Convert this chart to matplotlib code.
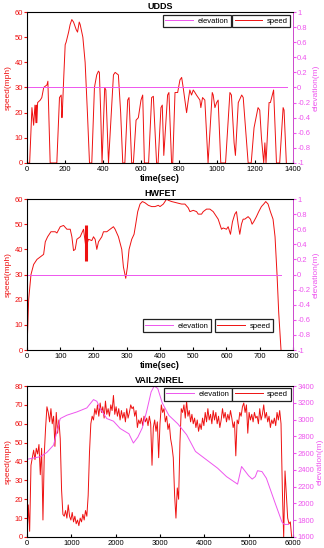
import matplotlib.pyplot as plt
import numpy as np

plt.rcParams['font.family'] = ['Liberation Sans', 'DejaVu Sans']

RED = '#ee1111'
MAG = '#ee55ee'

# UDDS: (time s, speed mph)
udds_speed = [(0, 0), (14, 0), (26, 22), (35, 15), (42, 23), (47, 16), (49, 23), (52, 16),
              (56, 24), (70, 25), (78, 26), (88, 30), (96, 30.5), (105, 31), (110, 32.5),
              (122, 0), (157, 0), (171, 26), (180, 27), (184, 18), (187, 22), (194, 35),
              (201, 47), (206, 48), (219, 52), (227, 55), (236, 57), (245, 56), (259, 53),
              (266, 52), (275, 56), (280, 55), (294, 50), (306, 40), (318, 20), (329, 0),
              (341, 0), (355, 30), (367, 35), (376, 36.5), (381, 36), (388, 20), (395, 0),
              (409, 30), (415, 29), (429, 0), (455, 35), (464, 36), (481, 35), (493, 20),
              (504, 0), (515, 0), (530, 25), (537, 26), (551, 0), (560, 0), (574, 17),
              (586, 18), (600, 25), (609, 27), (618, 0), (640, 0), (656, 26), (665, 26.5),
              (682, 0), (690, 0), (705, 22), (712, 23), (720, 3), (740, 27), (747, 28),
              (761, 0), (767, 0), (779, 28), (793, 28), (805, 33), (814, 34), (822, 30),
              (831, 25), (840, 20), (849, 25), (857, 29), (866, 27), (875, 29), (884, 28),
              (892, 27), (901, 26), (910, 25), (915, 22), (924, 26), (936, 25), (953, 0),
              (975, 28), (980, 27), (989, 22), (998, 24), (1006, 25), (1020, 0), (1045, 0),
              (1068, 28), (1076, 27), (1090, 8), (1097, 3), (1112, 24), (1130, 27),
              (1138, 26), (1164, 0), (1180, 0), (1195, 14), (1216, 22), (1225, 21),
              (1234, 10), (1246, 0), (1252, 8), (1258, 0), (1274, 24), (1281, 24),
              (1298, 29), (1313, 0), (1330, 0), (1348, 22), (1353, 21), (1365, 0)]
udds_elev = [(0, 0), (1370, 0)]

# HWFET
hwfet_speed = [(0, 0), (5, 20), (12, 30), (20, 34), (25, 35), (30, 36), (40, 37), (50, 38),
               (55, 43), (62, 45), (72, 47), (85, 47), (90, 46.5), (100, 49), (110, 49.5),
               (120, 48), (130, 48), (135, 45), (140, 39.5), (145, 40), (150, 44), (160, 45),
               (170, 48), (176, 42), (180, 42), (185, 44), (195, 43.5), (200, 45), (205, 44),
               (210, 40), (215, 43), (225, 45), (230, 47), (240, 47), (250, 48), (260, 49),
               (265, 48), (275, 45), (285, 40), (290, 33), (297, 28.5), (302, 33), (307, 40),
               (315, 44), (322, 46), (327, 50), (333, 55), (340, 58), (347, 59), (355, 58.5),
               (365, 57.5), (375, 57), (385, 57), (395, 57.5), (400, 57), (410, 58), (420, 60),
               (425, 59.5), (435, 59), (450, 58.5), (465, 58), (475, 58), (485, 56.5),
               (490, 55), (500, 55.5), (510, 55), (515, 54), (525, 54), (530, 55), (540, 56),
               (550, 56), (560, 55), (570, 53), (575, 52), (580, 50), (585, 48), (590, 48.5),
               (600, 48), (605, 49), (612, 46), (618, 51), (625, 54), (630, 55), (635, 50),
               (640, 46), (645, 50), (650, 52), (655, 52), (665, 53), (672, 52), (677, 50),
               (682, 51), (690, 53), (697, 55), (705, 57), (712, 58), (718, 59), (725, 58),
               (732, 55), (740, 52), (746, 45), (752, 30), (757, 15), (764, 0)]
hwfet_elev = [(0, 0), (765, 0)]
hwfet_bar = (176, 35.5, 49.5)   # thick red segment: time, low, high

# VAIL2NREL, speed sampled every 30 s
vail_speed = [0, 17, 3, 38, 42, 46, 41, 47, 44, 49, 33, 47, 9, 44, 58, 69, 66, 61, 68, 60,
              64, 48, 66, 55, 62, 52, 25, 12, 11, 14, 10, 17, 11, 9, 13, 8, 11, 7, 9, 6,
              10, 8, 12, 9, 14, 11, 22, 45, 60, 64, 62, 68, 65, 70, 64, 71, 66, 69, 63, 72,
              65, 68, 64, 70, 67, 75, 65, 69, 64, 68, 62, 67, 63, 66, 61, 68, 63, 66, 70, 68,
              69, 64, 67, 58, 62, 60, 63, 59, 64, 61, 63, 59, 64, 60, 38, 58, 62, 56, 61, 42,
              60, 70, 66, 68, 61, 64, 57, 60, 52, 48, 42, 22, 10, 26, 20, 50, 68, 66, 70, 63,
              72, 64, 67, 61, 65, 60, 63, 58, 62, 56, 60, 57, 63, 59, 66, 61, 68, 62, 65, 60,
              67, 62, 66, 60, 64, 58, 62, 68, 63, 66, 61, 65, 62, 67, 63, 58, 61, 43, 62, 60,
              66, 64, 69, 71, 66, 70, 55, 66, 62, 65, 61, 66, 63, 64, 60, 68, 62, 65, 70, 63,
              66, 61, 64, 58, 62, 60, 63, 59, 66, 62, 67, 60, 25, 0, 35, 22, 10, 7, 8, 0]
vail_time = np.arange(len(vail_speed)) * 30
vail_elev = [(0, 2526), (300, 2557), (450, 2609), (600, 2696), (750, 3012), (900, 3052),
             (1125, 3091), (1350, 3139), (1500, 3238), (1575, 3218), (1650, 3131),
             (1800, 3012), (1950, 2981), (2100, 2894), (2300, 2830), (2400, 2720),
             (2500, 2790), (2600, 2900), (2700, 3100), (2800, 3330), (2870, 3400),
             (2950, 3370), (3050, 3200), (3200, 3050), (3400, 2950), (3600, 2820),
             (3800, 2620), (4000, 2540), (4300, 2420), (4500, 2320), (4750, 2230),
             (4840, 2440), (5000, 2330), (5080, 2290), (5150, 2320), (5200, 2390),
             (5300, 2380), (5400, 2300), (5600, 2000), (5750, 1780), (5800, 1750),
             (5900, 1750)]

fig = plt.figure(figsize=(3.24, 5.48), dpi=100)


def panel(rect, title, st, sv, elev, xmax, xstep, ymax, elim, estep, eticklab,
          leg_anchor, leg_loc, xlabel=True):
    ax = fig.add_axes(rect)
    ax.plot(st, sv, color=RED, lw=0.7)
    ax.set_xlim(0, xmax)
    ax.set_ylim(0, ymax)
    ax.set_xticks(np.arange(0, xmax + 1, xstep))
    ax.set_yticks(np.arange(0, ymax + 1, 10))
    ax.tick_params(axis='x', direction='in', length=2, labelsize=5.5, pad=2)
    ax.tick_params(axis='y', direction='out', length=2, labelsize=5.5, colors=RED, pad=1)
    ax.set_ylabel('speed(mph)', color=RED, fontsize=6, labelpad=2)
    ax.set_title(title, fontsize=6.5, fontweight='bold', pad=2)
    if xlabel:
        ax.set_xlabel('time(sec)', fontsize=6.5, fontweight='bold', labelpad=1)
    ax.spines['left'].set_color(RED)
    ax.spines['top'].set_color('#666666')
    for s in ax.spines.values():
        s.set_linewidth(0.6)

    ax2 = ax.twinx()
    et, ev = zip(*elev)
    ax2.plot(et, ev, color=MAG, lw=0.7)
    ax2.set_ylim(*elim)
    ticks = np.arange(elim[0], elim[1] + estep / 2, estep)
    ax2.set_yticks(ticks)
    ax2.set_yticklabels([eticklab(t) for t in ticks])
    ax2.tick_params(axis='y', direction='out', length=2, labelsize=5.5, colors=MAG, pad=1)
    ax2.spines['right'].set_color(MAG)
    ax2.spines['right'].set_linewidth(0.6)
    ax2.set_ylabel('elevation(m)', color=MAG, fontsize=6, labelpad=2)

    kw = dict(fontsize=5.5, handlelength=3.6, handletextpad=0.6, borderpad=0.35,
              borderaxespad=0, fancybox=False, edgecolor='#222222', framealpha=1)
    l1 = ax2.legend([plt.Line2D([], [], color=MAG, lw=0.7)], ['elevation'],
                    loc=leg_loc, bbox_to_anchor=leg_anchor[0], **kw)
    l1.get_frame().set_linewidth(0.9)
    ax2.add_artist(l1)
    l2 = ax2.legend([plt.Line2D([], [], color=RED, lw=0.7)], ['speed'],
                    loc=leg_loc, bbox_to_anchor=leg_anchor[1], **kw)
    l2.get_frame().set_linewidth(0.9)
    return ax, ax2


def fmt_unit(t):
    t = round(t, 1)
    if t == 0:
        return '0'
    if abs(t) == 1:
        return '%d' % t
    return ('%.1f' % t)


left, width = 0.0833, 0.821
h = 0.2755

ut, uv = zip(*udds_speed)
panel([left, 0.7026, width, h], 'UDDS', ut, uv, udds_elev, 1400, 200, 60,
      (-1, 1), 0.2, fmt_unit, [(0.767, 0.982), (0.99, 0.982)], 'upper right')

ht, hv = zip(*hwfet_speed)
ax, ax2 = panel([left, 0.3613, width, h], 'HWFET', ht, hv, hwfet_elev, 800, 100, 60,
                (-1, 1), 0.2, fmt_unit, [(0.692, 0.118), (0.925, 0.118)], 'lower right')
ax.vlines(hwfet_bar[0], hwfet_bar[1], hwfet_bar[2], color=RED, lw=2.2)

panel([left, 0.0201, width, h], 'VAIL2NREL', vail_time, vail_speed, vail_elev, 6000, 1000, 80,
      (1600, 3400), 200, lambda t: '%d' % t, [(0.771, 0.988), (0.992, 0.988)], 'upper right',
      xlabel=False)

fig.savefig('out.png', dpi=100)
